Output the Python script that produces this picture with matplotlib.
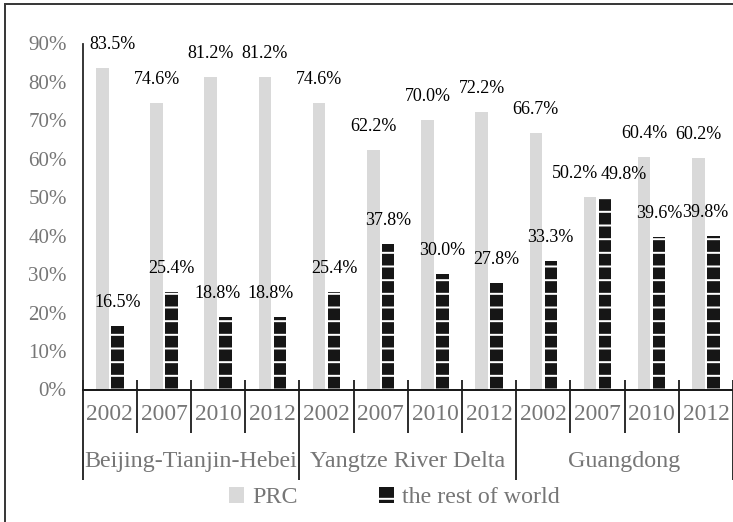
import numpy as np
import matplotlib
matplotlib.use("Agg")
from matplotlib import pyplot as plt
from matplotlib.patches import Patch
from matplotlib.lines import Line2D
import matplotlib.transforms as mtransforms

regions = ["Beijing-Tianjin-Hebei", "Yangtze River Delta", "Guangdong"]
years = ["2002", "2007", "2010", "2012"]
prc = [83.5, 74.6, 81.2, 81.2, 74.6, 62.2, 70.0, 72.2, 66.7, 50.2, 60.4, 60.2]
rest = [16.5, 25.4, 18.8, 18.8, 25.4, 37.8, 30.0, 27.8, 33.3, 49.8, 39.6, 39.8]
yticks = [0, 10, 20, 30, 40, 50, 60, 70, 80, 90]

# small manual nudges of the value labels (pixels), as in the source chart
prc_nudge = {0: 10, 9: -15}
rest_nudge = {2: -8, 3: -9, 9: 19, 11: -8}

DPI = 82          # one hatch line every 1/6 inch -> ~13.7 px like the original
W, H = 733, 522

def px(v):
    # pixels -> points
    return v * 72 / DPI

plt.rcParams['font.family'] = ['Liberation Serif', 'DejaVu Serif']
plt.rcParams['hatch.linewidth'] = px(2)

GRAY_TXT = "#767676"
LIGHT = "#d9d9d9"
DARK = "#161616"

fig = plt.figure(figsize=(W / DPI, H / DPI), dpi=DPI)
ax_left, ax_right = 82.7, 733
ax_top, ax_bot = 43.5, 389.5
ax = fig.add_axes([ax_left / W, 1 - ax_bot / H, (ax_right - ax_left) / W, (ax_bot - ax_top) / H])

n = len(prc)
x = np.arange(n)
bw = 0.23
off = 0.138
ax.bar(x - off, prc, width=bw, color=LIGHT, linewidth=0)
ax.bar(x + off, rest, width=bw, color=DARK, edgecolor="white", linewidth=0, hatch="-")

ax.set_xlim(-0.5, n - 0.5)
ax.set_ylim(0, 90)
ax.set_yticks(yticks)
ax.set_yticklabels([f"{v}%" for v in yticks], color=GRAY_TXT, fontsize=px(21))
ax.tick_params(axis="y", length=0, pad=px(16))
ax.set_xticks([])

for s in ["top", "right"]:
    ax.spines[s].set_visible(False)
ax.spines["left"].set_color("#262626")
ax.spines["left"].set_linewidth(px(1.8))
ax.spines["bottom"].set_color("#1a1a1a")
ax.spines["bottom"].set_linewidth(px(2))

# value labels
for i in range(n):
    ax.annotate(f"{prc[i]:.1f}%", (x[i] - off, prc[i]), xytext=(prc_nudge.get(i, 0), 19),
                textcoords="offset pixels", ha="center", va="baseline",
                fontsize=px(18), color="#000000")
    ax.annotate(f"{rest[i]:.1f}%", (x[i] + off, rest[i]), xytext=(rest_nudge.get(i, 0), 19),
                textcoords="offset pixels", ha="center", va="baseline",
                fontsize=px(18), color="#000000")

# two-level category axis
ah = ax_bot - ax_top
def ay(ypx):
    return (ax_bot - ypx) / ah

trans = mtransforms.blended_transform_factory(ax.transData, ax.transAxes)
for i in range(n):
    ax.text(x[i], ay(420.5), years[i % len(years)], transform=trans, ha="center",
            va="baseline", fontsize=px(23.5), color=GRAY_TXT)
for b in range(n + 1):
    xb = b - 0.5
    long_sep = b % len(years) == 0
    y1 = ay(480) if long_sep else ay(433)
    ax.plot([xb, xb], [ay(380), y1], transform=trans, color="#1a1a1a",
            lw=px(1.8), clip_on=False, solid_capstyle="butt")
for g, name in enumerate(regions):
    cx = g * len(years) + (len(years) - 1) / 2
    ax.text(cx, ay(467), name, transform=trans, ha="center", va="baseline",
            fontsize=px(24), color=GRAY_TXT)

handles = [Patch(facecolor=LIGHT, linewidth=0, label="PRC"),
           Patch(facecolor=DARK, edgecolor="white", linewidth=0, hatch="-", label="the rest of world")]
fig.legend(handles=handles, loc="center", bbox_to_anchor=(394.5 / W, 1 - 497.5 / H), ncol=2,
           frameon=False, fontsize=px(24), labelcolor=GRAY_TXT, handlelength=0.63,
           handleheight=0.63, handletextpad=0.33, columnspacing=3.4, borderpad=0)

# outer chart frame (top and left edges visible in the crop)
fig.add_artist(Line2D([5 / W, 5 / W], [0, 1 - 4 / H], transform=fig.transFigure,
                      color="#3a3a3a", lw=px(2)))
fig.add_artist(Line2D([5 / W, 1], [1 - 4 / H, 1 - 4 / H], transform=fig.transFigure,
                      color="#3a3a3a", lw=px(2)))

fig.savefig("out.png", dpi=DPI)
